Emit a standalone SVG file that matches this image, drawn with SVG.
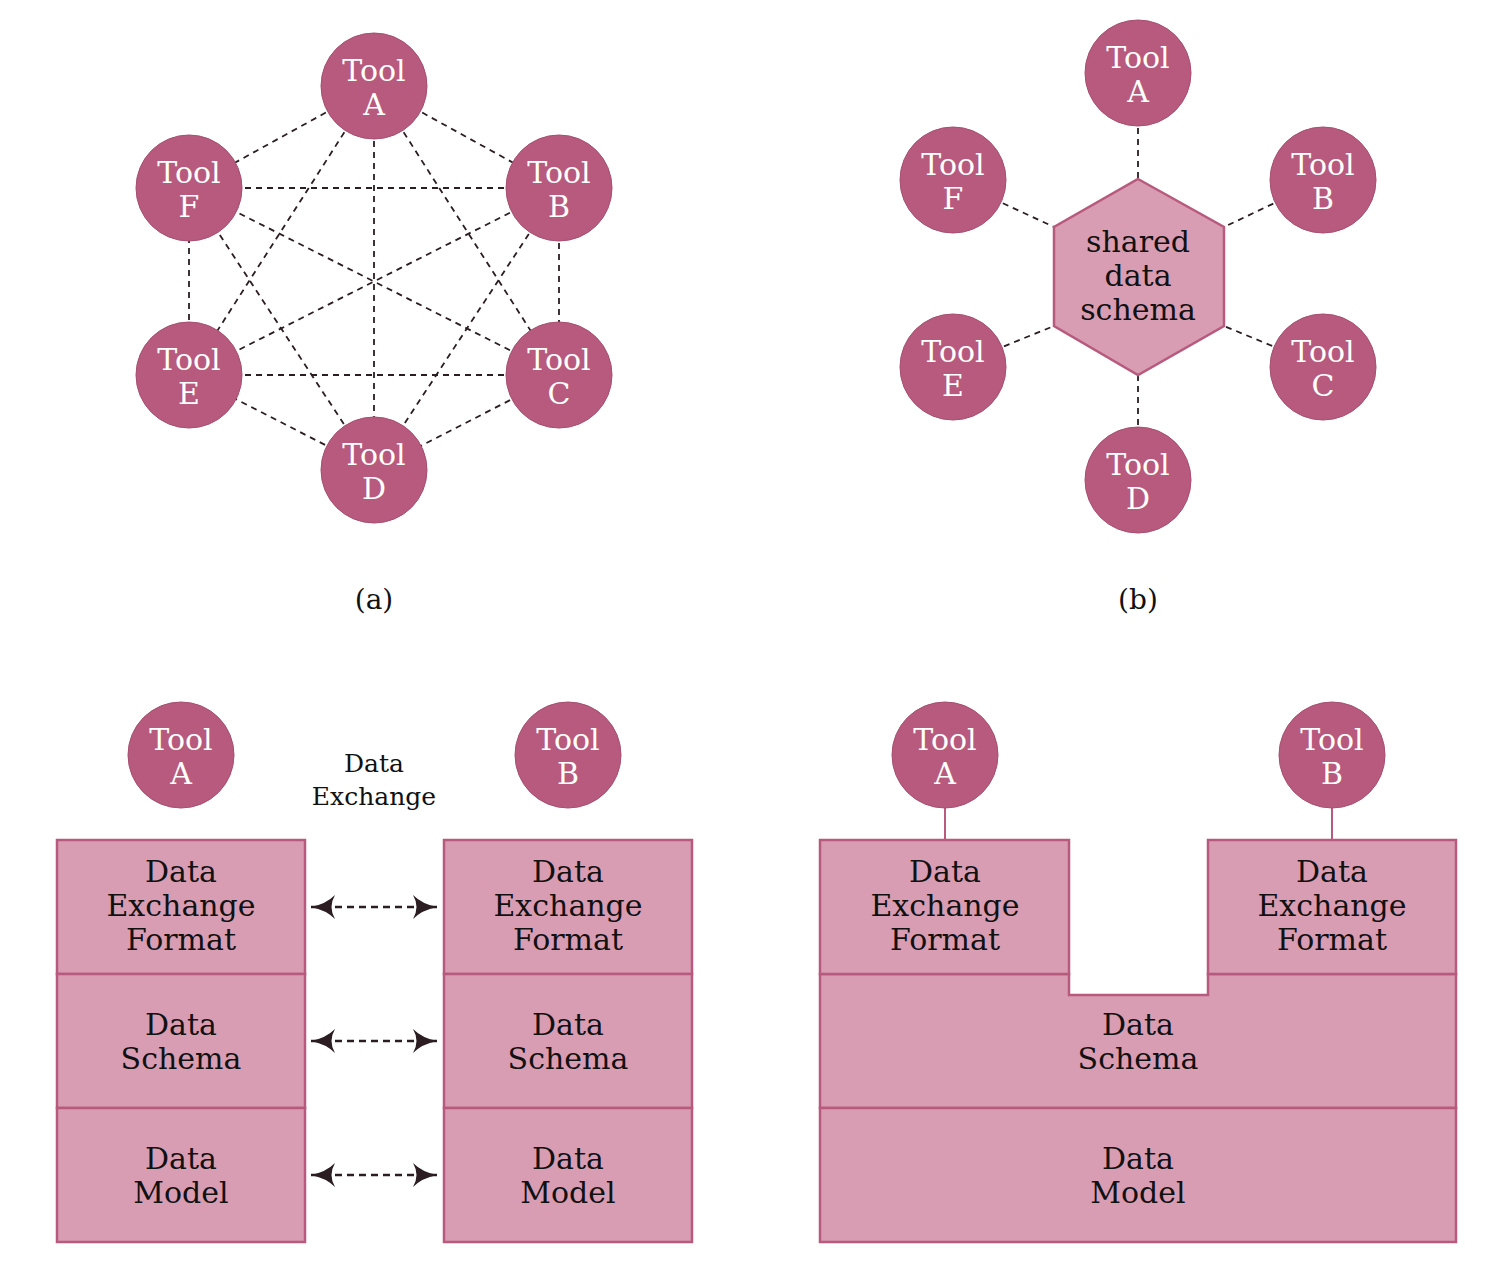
<svg xmlns="http://www.w3.org/2000/svg" width="1500" height="1283" viewBox="0 0 1500 1283">
<style>
.tool{fill:#b85a7d;stroke:#a64e70;stroke-width:1}
.tt{font-family:"DejaVu Serif","Liberation Serif",serif;font-size:30px;fill:#ffffff;text-anchor:middle}
.bt{font-family:"DejaVu Serif","Liberation Serif",serif;font-size:30px;fill:#111111;text-anchor:middle}
.cap{font-family:"DejaVu Serif","Liberation Serif",serif;font-size:28px;fill:#111111;text-anchor:middle}
.lab{font-family:"DejaVu Serif","Liberation Serif",serif;font-size:25px;fill:#111111;text-anchor:middle}
.dash{stroke:#2b1d22;stroke-width:1.8;stroke-dasharray:6,5;fill:none}
.arr{stroke:#2b1d22;stroke-width:2.5;stroke-dasharray:7,5;fill:none}
.box{fill:#d99db3;stroke:#b85a7d;stroke-width:2.5}
.solid{stroke:#b85a7d;stroke-width:2;fill:none}
</style>
<defs>
<marker id="ah" viewBox="0 0 24 24" refX="24" refY="12" markerWidth="24" markerHeight="24" markerUnits="userSpaceOnUse" orient="auto-start-reverse">
<path d="M0,0 Q9,9 24,12 Q9,15 0,24 Q7,12 0,0 Z" fill="#2b1d22"/>
</marker>
</defs>
<rect width="1500" height="1283" fill="#ffffff"/>
<g id="connectors">
<line class="dash" x1="374" y1="86" x2="559" y2="188"/>
<line class="dash" x1="374" y1="86" x2="559" y2="375"/>
<line class="dash" x1="374" y1="86" x2="374" y2="470"/>
<line class="dash" x1="374" y1="86" x2="189" y2="375"/>
<line class="dash" x1="374" y1="86" x2="189" y2="188"/>
<line class="dash" x1="559" y1="188" x2="559" y2="375"/>
<line class="dash" x1="559" y1="188" x2="374" y2="470"/>
<line class="dash" x1="559" y1="188" x2="189" y2="375"/>
<line class="dash" x1="559" y1="188" x2="189" y2="188"/>
<line class="dash" x1="559" y1="375" x2="374" y2="470"/>
<line class="dash" x1="559" y1="375" x2="189" y2="375"/>
<line class="dash" x1="559" y1="375" x2="189" y2="188"/>
<line class="dash" x1="374" y1="470" x2="189" y2="375"/>
<line class="dash" x1="374" y1="470" x2="189" y2="188"/>
<line class="dash" x1="189" y1="375" x2="189" y2="188"/>
<line class="dash" x1="1138" y1="73" x2="1138" y2="179"/>
<line class="dash" x1="1323" y1="180" x2="1224" y2="227"/>
<line class="dash" x1="1323" y1="367" x2="1224" y2="326"/>
<line class="dash" x1="1138" y1="480" x2="1138" y2="375"/>
<line class="dash" x1="953" y1="367" x2="1054" y2="326"/>
<line class="dash" x1="953" y1="180" x2="1054" y2="227"/>
<line class="arr" x1="311" y1="907" x2="437" y2="907" marker-start="url(#ah)" marker-end="url(#ah)"/>
<line class="arr" x1="311" y1="1041" x2="437" y2="1041" marker-start="url(#ah)" marker-end="url(#ah)"/>
<line class="arr" x1="311" y1="1175" x2="437" y2="1175" marker-start="url(#ah)" marker-end="url(#ah)"/>
<line class="solid" x1="945" y1="806" x2="945" y2="840"/>
<line class="solid" x1="1332" y1="806" x2="1332" y2="840"/>
</g>
<g id="a-toolA"><circle class="tool" cx="374" cy="86" r="53"/><text class="tt" x="374" y="81">Tool</text><text class="tt" x="374" y="115">A</text></g>
<g id="a-toolB"><circle class="tool" cx="559" cy="188" r="53"/><text class="tt" x="559" y="183">Tool</text><text class="tt" x="559" y="217">B</text></g>
<g id="a-toolC"><circle class="tool" cx="559" cy="375" r="53"/><text class="tt" x="559" y="370">Tool</text><text class="tt" x="559" y="404">C</text></g>
<g id="a-toolD"><circle class="tool" cx="374" cy="470" r="53"/><text class="tt" x="374" y="465">Tool</text><text class="tt" x="374" y="499">D</text></g>
<g id="a-toolE"><circle class="tool" cx="189" cy="375" r="53"/><text class="tt" x="189" y="370">Tool</text><text class="tt" x="189" y="404">E</text></g>
<g id="a-toolF"><circle class="tool" cx="189" cy="188" r="53"/><text class="tt" x="189" y="183">Tool</text><text class="tt" x="189" y="217">F</text></g>
<g id="label-a"><text class="cap" x="374" y="609">(a)</text></g>
<g id="b-schema"><polygon class="box" points="1138,179 1224,227 1224,326 1138,375 1054,326 1054,227"/><text class="bt" x="1138" y="252">shared</text><text class="bt" x="1138" y="286">data</text><text class="bt" x="1138" y="320">schema</text></g>
<g id="b-toolA"><circle class="tool" cx="1138" cy="73" r="53"/><text class="tt" x="1138" y="68">Tool</text><text class="tt" x="1138" y="102">A</text></g>
<g id="b-toolB"><circle class="tool" cx="1323" cy="180" r="53"/><text class="tt" x="1323" y="175">Tool</text><text class="tt" x="1323" y="209">B</text></g>
<g id="b-toolC"><circle class="tool" cx="1323" cy="367" r="53"/><text class="tt" x="1323" y="362">Tool</text><text class="tt" x="1323" y="396">C</text></g>
<g id="b-toolD"><circle class="tool" cx="1138" cy="480" r="53"/><text class="tt" x="1138" y="475">Tool</text><text class="tt" x="1138" y="509">D</text></g>
<g id="b-toolE"><circle class="tool" cx="953" cy="367" r="53"/><text class="tt" x="953" y="362">Tool</text><text class="tt" x="953" y="396">E</text></g>
<g id="b-toolF"><circle class="tool" cx="953" cy="180" r="53"/><text class="tt" x="953" y="175">Tool</text><text class="tt" x="953" y="209">F</text></g>
<g id="label-b"><text class="cap" x="1138" y="609">(b)</text></g>
<g id="c-toolA"><circle class="tool" cx="181" cy="755" r="53"/><text class="tt" x="181" y="750">Tool</text><text class="tt" x="181" y="784">A</text></g>
<g id="c-toolB"><circle class="tool" cx="568" cy="755" r="53"/><text class="tt" x="568" y="750">Tool</text><text class="tt" x="568" y="784">B</text></g>
<g id="c-label"><text class="lab" x="374" y="772">Data</text><text class="lab" x="374" y="805">Exchange</text></g>
<g id="c-A-format"><rect class="box" x="57" y="840" width="248" height="134"/><text class="bt" x="181" y="882">Data</text><text class="bt" x="181" y="916">Exchange</text><text class="bt" x="181" y="950">Format</text></g>
<g id="c-A-schema"><rect class="box" x="57" y="974" width="248" height="134"/><text class="bt" x="181" y="1035">Data</text><text class="bt" x="181" y="1069">Schema</text></g>
<g id="c-A-model"><rect class="box" x="57" y="1108" width="248" height="134"/><text class="bt" x="181" y="1169">Data</text><text class="bt" x="181" y="1203">Model</text></g>
<g id="c-B-format"><rect class="box" x="444" y="840" width="248" height="134"/><text class="bt" x="568" y="882">Data</text><text class="bt" x="568" y="916">Exchange</text><text class="bt" x="568" y="950">Format</text></g>
<g id="c-B-schema"><rect class="box" x="444" y="974" width="248" height="134"/><text class="bt" x="568" y="1035">Data</text><text class="bt" x="568" y="1069">Schema</text></g>
<g id="c-B-model"><rect class="box" x="444" y="1108" width="248" height="134"/><text class="bt" x="568" y="1169">Data</text><text class="bt" x="568" y="1203">Model</text></g>
<g id="d-toolA"><circle class="tool" cx="945" cy="755" r="53"/><text class="tt" x="945" y="750">Tool</text><text class="tt" x="945" y="784">A</text></g>
<g id="d-toolB"><circle class="tool" cx="1332" cy="755" r="53"/><text class="tt" x="1332" y="750">Tool</text><text class="tt" x="1332" y="784">B</text></g>
<g id="d-schema"><polygon class="box" points="820,974 1069,974 1069,995 1208,995 1208,974 1456,974 1456,1108 820,1108"/><text class="bt" x="1138" y="1035">Data</text><text class="bt" x="1138" y="1069">Schema</text></g>
<g id="d-model"><rect class="box" x="820" y="1108" width="636" height="134"/><text class="bt" x="1138" y="1169">Data</text><text class="bt" x="1138" y="1203">Model</text></g>
<g id="d-A-format"><rect class="box" x="820" y="840" width="249" height="134"/><text class="bt" x="945" y="882">Data</text><text class="bt" x="945" y="916">Exchange</text><text class="bt" x="945" y="950">Format</text></g>
<g id="d-B-format"><rect class="box" x="1208" y="840" width="248" height="134"/><text class="bt" x="1332" y="882">Data</text><text class="bt" x="1332" y="916">Exchange</text><text class="bt" x="1332" y="950">Format</text></g>
</svg>
